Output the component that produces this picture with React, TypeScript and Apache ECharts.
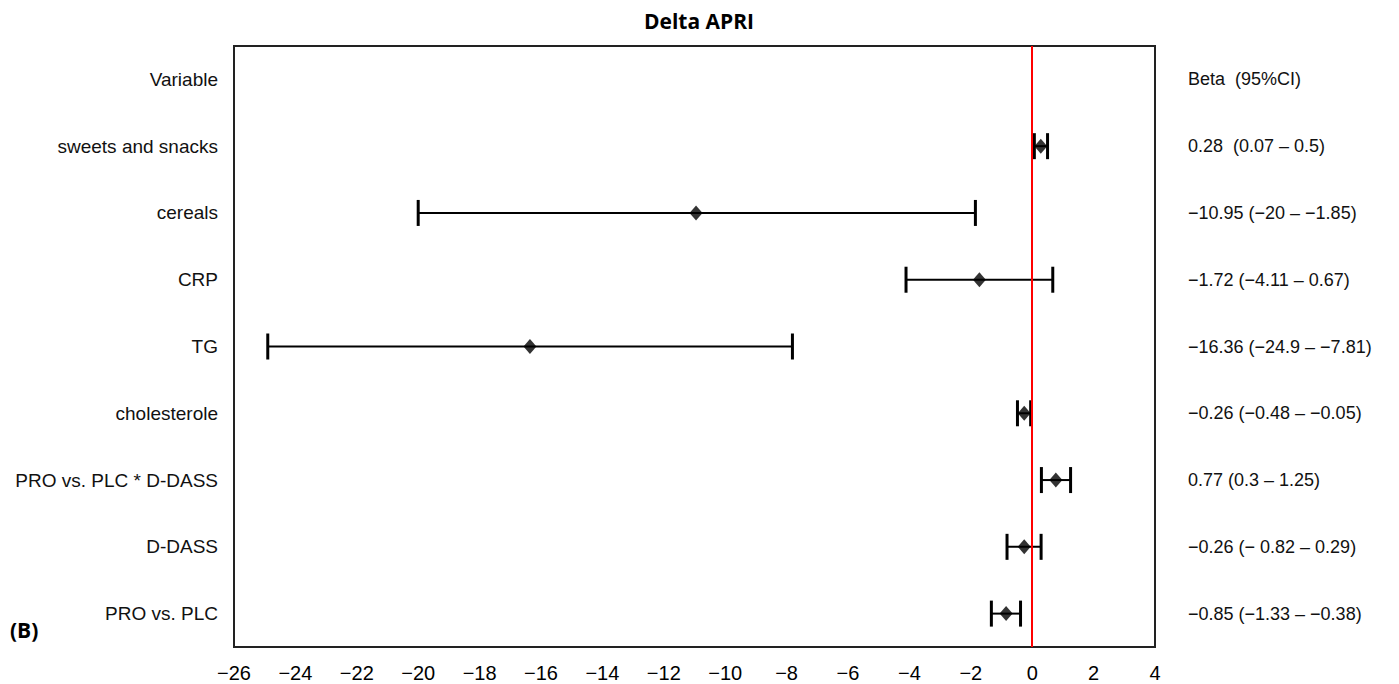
import React, { useEffect, useRef } from "react";
import * as echarts from "echarts";

const chartTitle = "Delta APRI";
const panelLabel = "(B)";
const headerLeft = "Variable";
const headerRight = "Beta  (95%CI)";
const variables = [
  "sweets and snacks",
  "cereals",
  "CRP",
  "TG",
  "cholesterole",
  "PRO vs. PLC * D-DASS",
  "D-DASS",
  "PRO vs. PLC",
];
const betas = [0.28, -10.95, -1.72, -16.36, -0.26, 0.77, -0.26, -0.85];
const lower = [0.07, -20, -4.11, -24.9, -0.48, 0.3, -0.82, -1.33];
const upper = [0.5, -1.85, 0.67, -7.81, -0.05, 1.25, 0.29, -0.38];
const ciLabels = [
  "0.28  (0.07 \u2013 0.5)",
  "\u221210.95 (\u221220 \u2013 \u22121.85)",
  "\u22121.72 (\u22124.11 \u2013 0.67)",
  "\u221216.36 (\u221224.9 \u2013 \u22127.81)",
  "\u22120.26 (\u22120.48 \u2013 \u22120.05)",
  "0.77 (0.3 \u2013 1.25)",
  "\u22120.26 (\u2212 0.82 \u2013 0.29)",
  "\u22120.85 (\u22121.33 \u2013 \u22120.38)",
];
const xMin = -26;
const xMax = 4;
const xStep = 2;

export default function App() {
  const ref = useRef<HTMLDivElement>(null);
  useEffect(() => {
    document.body.style.margin = "0";
    const chart = echarts.init(ref.current!, undefined, { renderer: "svg" });
    const cats = [headerLeft, ...variables];
    const rightCats = [headerRight, ...ciLabels];
    const errData = variables.map((v, i) => [v, lower[i], upper[i]]);
    const pointData = variables.map((v, i) => [betas[i], v]);
    chart.setOption({
      animation: false,
      backgroundColor: "#ffffff",
      title: {
        text: chartTitle,
        left: 694,
        textAlign: "center",
        top: 5,
        textStyle: {
          fontFamily: "Open Sans",
          fontWeight: "bold",
          fontSize: 21,
          color: "#000",
        },
      },
      graphic: [
        {
          type: "text",
          left: 10,
          top: 619,
          style: {
            text: panelLabel,
            font: "bold 21px 'Open Sans'",
            fill: "#000",
          },
        },
      ],
      grid: {
        left: 234,
        right: 244,
        top: 46,
        bottom: 37,
        show: true,
        borderColor: "#222",
        borderWidth: 2,
        backgroundColor: "transparent",
      },
      xAxis: {
        type: "value",
        min: xMin,
        max: xMax,
        interval: xStep,
        axisLine: { show: false },
        axisTick: { show: false },
        splitLine: { show: false },
        axisLabel: {
          margin: 16,
          fontFamily: "Liberation Sans",
          fontSize: 20,
          color: "#000",
          formatter: (v: number) => String(v).replace("-", "\u2212"),
        },
      },
      yAxis: [
        {
          type: "category",
          data: cats,
          inverse: true,
          axisLine: { show: false },
          axisTick: { show: false },
          splitLine: { show: false },
          axisLabel: {
            margin: 16,
            fontFamily: "Liberation Sans",
            fontSize: 19,
            color: "#111",
          },
        },
        {
          type: "category",
          data: rightCats,
          inverse: true,
          position: "right",
          axisLine: { show: false },
          axisTick: { show: false },
          splitLine: { show: false },
          axisLabel: {
            margin: 33,
            fontFamily: "Liberation Sans",
            fontSize: 18,
            color: "#111",
          },
        },
      ],
      series: [
        {
          type: "custom",
          yAxisIndex: 0,
          data: errData,
          renderItem: (params: any, api: any) => {
            const y = api.value(0);
            const lo = api.coord([api.value(1), y]);
            const hi = api.coord([api.value(2), y]);
            const h = 13;
            const style = { stroke: "#000", lineWidth: 2 };
            return {
              type: "group",
              children: [
                {
                  type: "line",
                  shape: { x1: lo[0], y1: lo[1], x2: hi[0], y2: hi[1] },
                  style,
                },
                {
                  type: "line",
                  shape: { x1: lo[0], y1: lo[1] - h, x2: lo[0], y2: lo[1] + h },
                  style: { stroke: "#000", lineWidth: 3 },
                },
                {
                  type: "line",
                  shape: { x1: hi[0], y1: hi[1] - h, x2: hi[0], y2: hi[1] + h },
                  style: { stroke: "#000", lineWidth: 3 },
                },
              ],
            };
          },
          encode: { x: [1, 2], y: 0 },
          z: 3,
        },
        {
          type: "scatter",
          yAxisIndex: 0,
          data: pointData,
          symbol: "diamond",
          symbolSize: [13, 15],
          itemStyle: { color: "#000" },
          z: 4,
          markLine: {
            silent: true,
            symbol: "none",
            label: { show: false },
            lineStyle: { color: "#ff0000", width: 2, type: "solid" },
            data: [{ xAxis: 0 }],
          },
        },
      ],
    });
    return () => chart.dispose();
  }, []);
  return <div ref={ref} style={{ width: 1399, height: 684 }} />;
}
